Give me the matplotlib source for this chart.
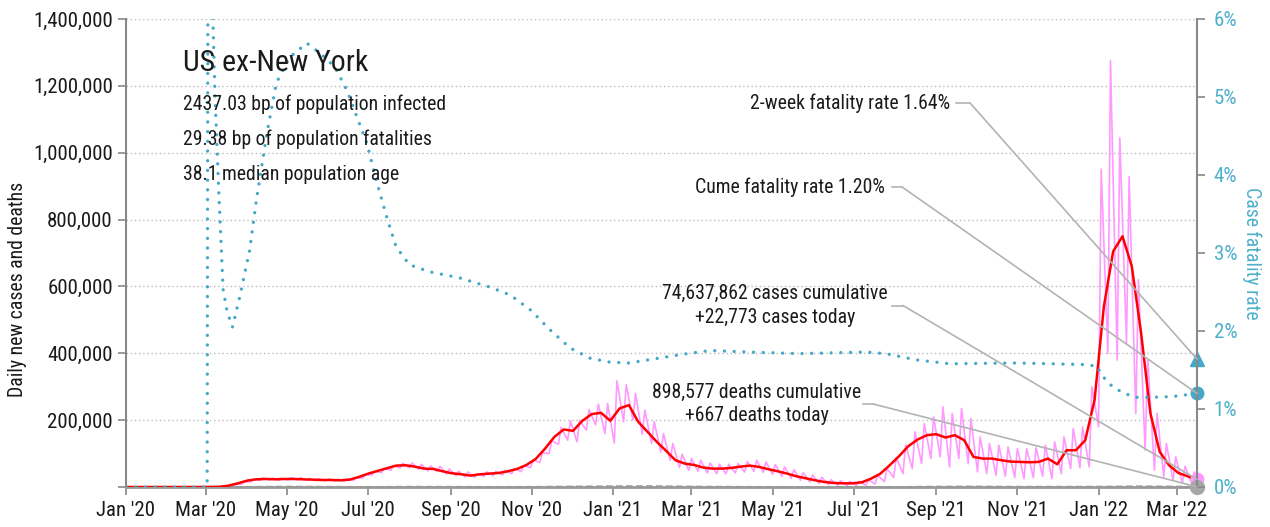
import pandas as pd
import matplotlib
matplotlib.use("Agg")
import matplotlib.pyplot as plt
import matplotlib.dates as mdates
from matplotlib.ticker import FuncFormatter

plt.rcParams['font.family'] = ['Roboto Condensed', 'PT Sans Narrow', 'DejaVu Sans']

start = '2020-01-01'
end = '2022-03-16'

# 7-day average of new cases, one value per week starting 1 Jan 2020 (thousands)
avg_cases = [0, 0, 0, 0, 0, 0, 0, 0, 0, 0.1, 0.6, 4, 11, 19, 23, 24, 23, 24, 24, 23,
             22, 21, 21, 20, 22, 30, 40, 48, 56, 64, 65, 61, 55, 54, 47, 41, 38, 34, 38, 40,
             42, 47, 54, 66, 84, 115, 150, 172, 168, 198, 218, 222, 198, 235, 245, 195, 165, 135, 108, 80,
             70, 66, 58, 55, 55, 57, 61, 64, 60, 53, 47, 40, 32, 26, 20, 15, 12, 11, 11, 14,
             25, 40, 65, 92, 122, 142, 155, 158, 148, 155, 140, 90, 85, 85, 80, 76, 75, 74, 75, 85,
             68, 110, 110, 140, 260, 540, 705, 750, 660, 460, 220, 105, 65, 42, 32]
avg_end = 22

# daily new cases: weekly high (Monday) and low (Saturday), thousands
daily_hi = [0, 0, 0, 0, 0, 0, 0, 0, 0, 0.3, 1.5, 7, 15, 23, 27, 27, 26, 28, 28, 26,
            25, 24, 24, 23, 27, 36, 47, 56, 64, 71, 72, 68, 63, 62, 54, 47, 45, 40, 45, 47,
            50, 56, 64, 80, 102, 138, 178, 198, 200, 232, 248, 250, 318, 306, 280, 230, 195, 160, 130, 98,
            85, 80, 72, 68, 68, 70, 76, 80, 75, 67, 60, 52, 43, 36, 29, 22, 19, 17, 17, 22,
            35, 55, 88, 125, 165, 190, 210, 240, 220, 235, 205, 150, 130, 125, 120, 115, 115, 118, 125, 135,
            150, 175, 180, 300, 951, 1275, 1044, 928, 620, 380, 220, 130, 90, 62, 45]
daily_lo = [0, 0, 0, 0, 0, 0, 0, 0, 0, 0.05, 0.4, 3, 9, 16, 20, 21, 20, 21, 21, 20,
            19, 18, 18, 17, 20, 27, 36, 43, 50, 57, 58, 53, 48, 46, 39, 34, 30, 29, 32, 34,
            36, 40, 46, 58, 74, 100, 128, 140, 135, 170, 186, 160, 132, 195, 200, 158, 130, 105, 80, 58,
            50, 47, 42, 40, 40, 42, 45, 47, 44, 38, 32, 26, 20, 15, 10, 7, 5, 4, 4, 5,
            9, 16, 28, 40, 55, 70, 85, 90, 60, 85, 70, 45, 40, 35, 32, 28, 25, 28, 32, 25,
            40, 55, 58, 60, 180, 400, 380, 430, 220, 110, 50, 30, 20, 12, 10]
cases_today = 22.773

cfr_dates = ['2020-01-01', '2020-03-02', '2020-03-03', '2020-03-05', '2020-03-06', '2020-03-08',
             '2020-03-11', '2020-03-14', '2020-03-17', '2020-03-21', '2020-03-26', '2020-04-03',
             '2020-04-08', '2020-04-16', '2020-04-23', '2020-05-03', '2020-05-16', '2020-05-26',
             '2020-06-02', '2020-06-07', '2020-06-15', '2020-06-22', '2020-06-30', '2020-07-07',
             '2020-07-15', '2020-07-22', '2020-08-01', '2020-08-16', '2020-09-08', '2020-10-01',
             '2020-10-16', '2020-10-31', '2020-11-15', '2020-11-30', '2020-12-15', '2020-12-30',
             '2021-01-13', '2021-02-22', '2021-03-15', '2021-04-14', '2021-05-21', '2021-07-10',
             '2021-07-25', '2021-08-17', '2021-09-11', '2021-11-01', '2021-12-20', '2021-12-31',
             '2022-01-03', '2022-01-10', '2022-01-18', '2022-01-28', '2022-02-10', '2022-02-26',
             '2022-03-16']
cfr_pct = [0, 0, 12, 7.5, 6.2, 4.96,
           3.68, 2.53, 2.25, 2.05, 2.4, 3.04,
           3.68, 4.54, 5.18, 5.51, 5.69, 5.56,
           5.45, 5.35, 5.09, 4.77, 4.41, 3.94,
           3.46, 3.08, 2.85, 2.76, 2.68, 2.56,
           2.46, 2.27, 2.01, 1.78, 1.65, 1.60,
           1.59, 1.70, 1.75, 1.73, 1.71, 1.73,
           1.71, 1.63, 1.58, 1.59, 1.57, 1.55,
           1.44, 1.31, 1.22, 1.15, 1.15, 1.16,
           1.20]

death_dates = ['2020-01-01', '2020-03-01', '2020-04-01', '2020-05-01', '2020-06-01', '2020-07-01',
               '2020-08-01', '2020-09-01', '2020-10-01', '2020-11-01', '2020-12-01', '2021-01-01',
               '2021-02-01', '2021-03-01', '2021-04-01', '2021-05-01', '2021-06-01', '2021-07-01',
               '2021-08-01', '2021-09-01', '2021-10-01', '2021-11-01', '2021-12-01', '2022-01-01',
               '2022-02-01', '2022-03-01', '2022-03-16']
deaths = [0, 0, 700, 1500, 900, 500, 1100, 900, 700, 800, 1800, 2700,
          2900, 1700, 900, 650, 450, 250, 400, 1400, 1900, 1100, 1100, 1300,
          2400, 1600, 667]
deaths_today = 667

fatality_2wk = 1.64
fatality_cume = 1.20

teal = '#45a9c6'
pink = '#ff99ff'
gray = '#b3b3b3'
ink = '#1a1a1a'
fs = 14.2
tick_fs = 15

# build the x positions
weeks = pd.date_range(start, periods=len(avg_cases), freq='7D')
t_end = pd.Timestamp(end)
red_x = list(weeks) + [t_end]
red_y = [v * 1000 for v in avg_cases] + [avg_end * 1000]

pink_x, pink_y = [], []
for d, lo, hi in zip(weeks, daily_lo, daily_hi):
    pink_x += [d + pd.Timedelta(days=3), d + pd.Timedelta(days=5)]
    pink_y += [lo * 1000, hi * 1000]
pink_x.append(t_end)
pink_y.append(cases_today * 1000)

cfr_x = pd.to_datetime(cfr_dates)
death_x = pd.to_datetime(death_dates)
x_end = mdates.date2num(t_end)

fig = plt.figure(figsize=(12.7, 5.27), dpi=100)
ax = fig.add_axes([126 / 1270, 40 / 527, 1071 / 1270, 468 / 527])
ax2 = ax.twinx()

ax.grid(axis='y', color='#bbbbbb', ls=(0, (1, 2)), lw=1)
ax.set_axisbelow(True)
ax.plot(pink_x, pink_y, color=pink, lw=1.2, zorder=2)
ax.plot(death_x, deaths, color='#9a9a9a', lw=1.2, ls=(0, (4, 2)), zorder=2)
ax.plot(red_x, red_y, color='#ff0000', lw=1.8, zorder=3)
ax.plot(t_end, cases_today * 1000, 'o', ms=9, color=pink, clip_on=False, zorder=4)
ax.plot(t_end, deaths_today, 'o', ms=10, color='#a6a6a6', clip_on=False, zorder=4)

ax2.plot(cfr_x, cfr_pct, color=teal, lw=2.4, ls=(0, (0.01, 2.9)), dash_capstyle='round')
ax2.plot(t_end, fatality_2wk, '^', ms=10, color=teal, clip_on=False)
ax2.plot(t_end, fatality_cume, 'o', ms=9, color=teal, clip_on=False)

ax.set_xlim(pd.Timestamp(start), t_end)
ax.set_ylim(0, 1400000)
ax2.set_ylim(0, 6)

ax.set_yticks(range(0, 1400001, 200000))
ax.yaxis.set_major_formatter(FuncFormatter(lambda v, p: '' if v == 0 else f'{v:,.0f}'))
ax2.set_yticks(range(0, 7))
ax2.yaxis.set_major_formatter(FuncFormatter(lambda v, p: f'{v:.0f}%'))
ax.xaxis.set_major_locator(mdates.MonthLocator(bymonth=[1, 3, 5, 7, 9, 11]))
ax.xaxis.set_major_formatter(mdates.DateFormatter("%b '%y"))

ax.tick_params(axis='both', labelsize=tick_fs, color='#888888', length=6, width=1.2,
               labelcolor=ink)
ax.tick_params(axis='x', pad=4)
ax2.tick_params(axis='y', labelsize=tick_fs, color='#888888', length=6, width=1.2,
                labelcolor='#4fb0cc', pad=6)

ax.spines['top'].set_visible(False)
ax2.spines['top'].set_visible(False)
ax.spines['right'].set_visible(False)
ax2.spines['left'].set_visible(False)
ax2.spines['bottom'].set_visible(False)
ax.spines['left'].set_color('#888888')
ax.spines['left'].set_linewidth(1.5)
ax2.spines['right'].set_color('#888888')
ax2.spines['right'].set_linewidth(1.5)
ax.spines['bottom'].set_color('#999999')
ax.spines['bottom'].set_linewidth(2)

fig.text(18 / 1270, 1 - 289 / 527, 'Daily new cases and deaths', rotation=90,
         ha='center', va='center', fontsize=fs, color=ink)
fig.text(1252 / 1270, 1 - 253 / 527, 'Case fatality rate', rotation=270,
         ha='center', va='center', fontsize=fs, color='#4fb0cc')

# header block
ax2.text(0.0532, 0.906, 'US ex-New York', fontsize=21.5, va='center', color=ink,
         transform=ax2.transAxes)
ax2.text(0.0532, 0.818, '2437.03 bp of population infected', fontsize=fs, va='center',
         color=ink, transform=ax2.transAxes)
ax2.text(0.0532, 0.7436, '29.38 bp of population fatalities', fontsize=fs, va='center',
         color=ink, transform=ax2.transAxes)
ax2.text(0.0532, 0.6688, '38.1 median population age', fontsize=fs, va='center',
         color=ink, transform=ax2.transAxes)


def callout(text, tx, ty, ha, s0, s1, target, coords):
    ax2.text(tx, ty, text, ha=ha, va='center', fontsize=fs, color=ink,
             linespacing=1.3, multialignment='center', transform=ax2.transAxes)
    ax2.plot([s0, s1], [ty, ty], color=gray, lw=1.2, transform=ax2.transAxes,
             clip_on=False)
    ax2.annotate('', xy=target, xycoords=coords, xytext=(s1, ty),
                 textcoords='axes fraction',
                 arrowprops=dict(arrowstyle='-', color=gray, lw=1.2,
                                 shrinkA=0, shrinkB=0))


callout('2-week fatality rate 1.64%', 0.7694, 0.8205, 'right', 0.7750, 0.7881,
        (x_end, fatality_2wk), 'data')
callout('Cume fatality rate 1.20%', 0.7087, 0.641, 'right', 0.7152, 0.7246,
        (x_end, fatality_cume), 'data')
callout('74,637,862 cases cumulative\n+22,773 cases today', 0.606, 0.3878, 'center',
        0.7152, 0.7255, (x_end, cases_today * 1000), ax.transData)
callout('898,577 deaths cumulative\n+667 deaths today', 0.589, 0.1774, 'center',
        0.688, 0.6975, (x_end, deaths_today), ax.transData)

fig.savefig('out.png', dpi=100)
